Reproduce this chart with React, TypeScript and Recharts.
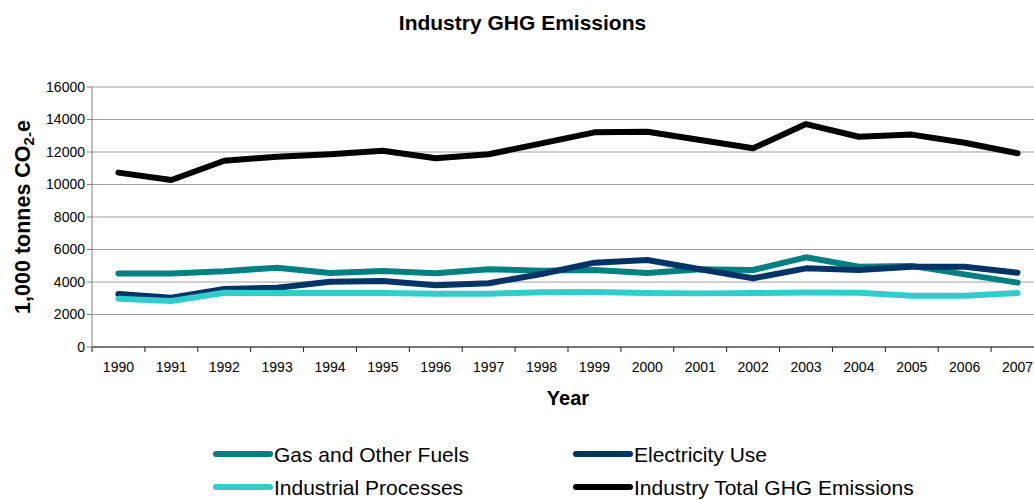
import React from "react"
import { LineChart, Line, XAxis, YAxis, CartesianGrid } from "recharts"

// Industry GHG emissions by source, 1,000 tonnes CO2-e
const years = ["1990", "1991", "1992", "1993", "1994", "1995", "1996", "1997", "1998", "1999", "2000", "2001", "2002", "2003", "2004", "2005", "2006", "2007"]
const gasFuels = [4530, 4530, 4660, 4880, 4560, 4680, 4540, 4780, 4700, 4740, 4550, 4780, 4740, 5520, 4940, 4990, 4470, 3960]
const electricity = [3260, 3030, 3570, 3650, 4020, 4060, 3800, 3920, 4490, 5190, 5350, 4780, 4230, 4840, 4740, 4940, 4940, 4570]
const processes = [2970, 2830, 3340, 3320, 3320, 3320, 3280, 3280, 3370, 3380, 3320, 3300, 3320, 3360, 3340, 3160, 3160, 3320]
const totalGhg = [10730, 10280, 11460, 11710, 11860, 12080, 11610, 11860, 12530, 13210, 13250, 12740, 12230, 13720, 12940, 13070, 12570, 11920]
const yTicks = [0, 2000, 4000, 6000, 8000, 10000, 12000, 14000, 16000]

const series = [
  { key: "gas", name: "Gas and Other Fuels", color: "#008080", values: gasFuels },
  { key: "elec", name: "Electricity Use", color: "#003366", values: electricity },
  { key: "proc", name: "Industrial Processes", color: "#33CCCC", values: processes },
  { key: "total", name: "Industry Total GHG Emissions", color: "#000000", values: totalGhg },
]

const data = years.map((year, i) => {
  const row: Record<string, number | string> = { idx: i, year }
  series.forEach((s) => (row[s.key] = s.values[i]))
  return row
})

// category boundaries, Excel-style ticks between years
const boundaryTicks = years.map((_, i) => i - 0.5).concat(years.length - 0.5)

const FONT = "Liberation Sans, Arial, sans-serif"
const CHART_W = 1060
const CHART_H = 500
const MARGIN = { top: 87, right: 16, bottom: 93, left: 0 }
const Y_AXIS_W = 92
const band = (CHART_W - MARGIN.right - MARGIN.left - Y_AXIS_W) / years.length

const YearTick = (props: any) => {
  const { x, y, payload } = props
  const label = years[payload.value + 0.5]
  if (!label) return null
  return (
    <text x={x + band / 2} y={y} dy="0.71em" textAnchor="middle" fontSize={14} fontFamily={FONT} fill="#000">
      {label}
    </text>
  )
}

const YTitle = (props: any) => {
  const vb = props.viewBox || { x: 0, y: 87, width: 92, height: 260 }
  const cx = vb.x + 23
  const cy = vb.y + vb.height / 2
  return (
    <text
      transform={`translate(${cx},${cy}) rotate(-90)`}
      textAnchor="middle"
      dominantBaseline="central"
      fontSize={21.5}
      fontWeight="bold"
      fontFamily={FONT}
      fill="#000"
    >
      1,000 tonnes CO<tspan fontSize={15} dy={5}>2</tspan>
      <tspan fontSize={15}>-</tspan>
      <tspan dy={-5}>e</tspan>
    </text>
  )
}

const XTitle = (props: any) => {
  const vb = props.viewBox || { x: 92, y: 347, width: 952, height: 60 }
  return (
    <text x={vb.x + vb.width / 2} y={vb.y + 58} textAnchor="middle" fontSize={20} fontWeight="bold" fontFamily={FONT} fill="#000">
      Year
    </text>
  )
}

function LegendBlock() {
  const cols = [213, 573]
  const rows = [454, 487]
  return (
    <svg width={1034} height={500} style={{ position: "absolute", left: 0, top: 0, pointerEvents: "none" }}>
      {series.map((s, i) => {
        const x = cols[i % 2]
        const y = rows[Math.floor(i / 2)]
        return (
          <g key={s.key}>
            <line x1={x + 3} y1={y} x2={x + 57} y2={y} stroke={s.color} strokeWidth={6} strokeLinecap="round" />
            <text x={x + 61} y={y} dy="0.36em" fontSize={21} fontFamily={FONT} fill="#000">
              {s.name}
            </text>
          </g>
        )
      })}
    </svg>
  )
}

export default function App() {
  return (
    <div style={{ position: "absolute", left: 0, top: 0, width: 1034, height: 500, overflow: "hidden", background: "#fff" }}>
      <div
        style={{
          position: "absolute",
          left: 0,
          width: 1045,
          top: 11,
          textAlign: "center",
          fontFamily: FONT,
          fontWeight: "bold",
          fontSize: 21,
          color: "#000",
        }}
      >
        Industry GHG Emissions
      </div>
      <LineChart width={CHART_W} height={CHART_H} data={data} margin={MARGIN}>
        <CartesianGrid vertical={false} stroke="#a0a0a0" />
        <XAxis
          dataKey="idx"
          type="number"
          domain={[-0.5, years.length - 0.5]}
          ticks={boundaryTicks}
          interval={0}
          height={60}
          tickSize={5}
          tickMargin={10}
          tick={<YearTick />}
          axisLine={{ stroke: "#222" }}
          tickLine={{ stroke: "#222" }}
          label={<XTitle />}
        />
        <YAxis
          width={Y_AXIS_W}
          domain={[0, 16000]}
          ticks={yTicks}
          interval={0}
          tickSize={5}
          tickMargin={2}
          tick={{ fontSize: 14, fontFamily: FONT, fill: "#000" }}
          axisLine={{ stroke: "#808080" }}
          tickLine={{ stroke: "#808080" }}
          label={<YTitle />}
        />
        {series.map((s) => (
          <Line
            key={s.key}
            type="linear"
            dataKey={s.key}
            name={s.name}
            stroke={s.color}
            strokeWidth={6}
            strokeLinejoin="round"
            strokeLinecap="round"
            dot={false}
            activeDot={false}
            isAnimationActive={false}
          />
        ))}
      </LineChart>
      <LegendBlock />
    </div>
  )
}
